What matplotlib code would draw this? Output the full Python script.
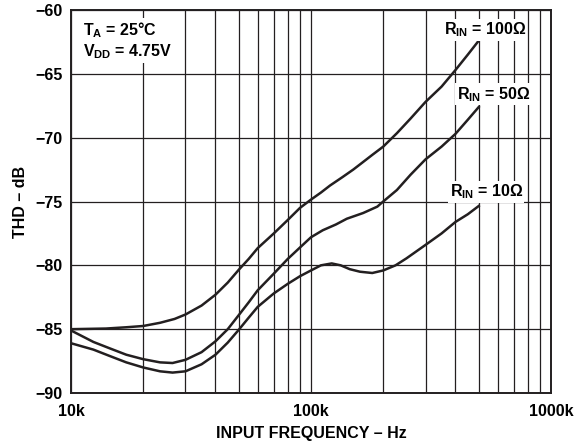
import numpy as np
import matplotlib
matplotlib.use('Agg')
from matplotlib import pyplot as plt

plt.rcParams['font.family'] = ['Liberation Sans', 'DejaVu Sans']
plt.rcParams['font.weight'] = 'bold'
plt.rcParams['mathtext.fontset'] = 'custom'
plt.rcParams['mathtext.rm'] = 'Liberation Sans:bold'
plt.rcParams['mathtext.it'] = 'Liberation Sans:bold'
plt.rcParams['mathtext.bf'] = 'Liberation Sans:bold'

# frequency in kHz, THD in dB
f_100 = [10, 14, 17, 20, 23.5, 27, 30, 35, 40, 45, 50, 55, 60, 70, 80, 90, 100, 110, 120, 135,
         150, 165, 180, 200, 228, 260, 300, 350, 400, 450, 500]
thd_100 = [-85.0, -84.95, -84.85, -84.75, -84.5, -84.2, -83.85, -83.15, -82.3, -81.35, -80.35,
           -79.5, -78.65, -77.5, -76.45, -75.5, -74.85, -74.3, -73.75, -73.1, -72.5, -71.9,
           -71.35, -70.7, -69.65, -68.5, -67.2, -66.0, -64.7, -63.5, -62.4]

f_50 = [10, 12.4, 14.5, 17, 20, 23.5, 26.5, 30, 35, 40, 45, 50, 55, 60, 70, 80, 90, 100, 112,
        127, 141, 165, 189, 200, 228, 260, 300, 350, 400, 450, 500]
thd_50 = [-85.1, -86.0, -86.5, -87.0, -87.35, -87.6, -87.65, -87.4, -86.8, -85.95, -85.0, -83.9,
          -82.9, -81.95, -80.65, -79.5, -78.6, -77.8, -77.25, -76.8, -76.35, -75.9, -75.4,
          -75.0, -74.1, -72.9, -71.7, -70.7, -69.7, -68.6, -67.6]

f_10 = [10, 12.4, 14.5, 17, 20, 23.5, 26.5, 30, 35, 40, 45, 50, 55, 60, 70, 80, 90, 100, 110,
        122, 133, 145, 160, 180, 200, 225, 250, 300, 350, 400, 450, 500]
thd_10 = [-86.1, -86.6, -87.1, -87.6, -88.0, -88.3, -88.4, -88.3, -87.75, -87.0, -86.05, -85.05,
          -84.1, -83.25, -82.2, -81.45, -80.85, -80.4, -80.0, -79.85, -80.0, -80.3, -80.5,
          -80.6, -80.4, -80.0, -79.45, -78.4, -77.5, -76.6, -76.0, -75.35]

yticks = [-90, -85, -80, -75, -70, -65, -60]

fig = plt.figure(figsize=(5.78, 4.46), dpi=100)
ax = fig.add_axes([0.1228, 0.1188, 0.8305, 0.8588])

for f, t in [(f_100, thd_100), (f_50, thd_50), (f_10, thd_10)]:
    ax.plot(np.array(f) * 1e3, t, color='#231f20', lw=1.8, zorder=3)

ax.set_xscale('log')
ax.set_xlim(1e4, 1e6)
ax.set_ylim(-90, -60)
ax.set_xticks([1e4, 1e5, 1e6])
ax.set_xticklabels(['10k', '100k', '1000k'])
ax.set_xticks([k * m for m in (1e4, 1e5) for k in range(2, 10)], minor=True)
ax.set_xticklabels([], minor=True)
ax.set_yticks(yticks)
ax.set_yticklabels(['\u2212%d' % abs(v) for v in yticks])
ax.grid(True, which='both', color='#231f20', lw=0.9)
ax.tick_params(which='both', length=0, labelsize=11.5)
ax.tick_params(axis='x', pad=8)
ax.tick_params(axis='y', pad=6)
for s in ax.spines.values():
    s.set_linewidth(1.4)
    s.set_color('#231f20')

ax.set_xlabel('INPUT FREQUENCY \u2013 Hz', fontsize=11.5, fontweight='bold', labelpad=5)
ax.set_ylabel('THD \u2013 dB', fontsize=11.5, fontweight='bold', labelpad=5)

box = dict(facecolor='white', edgecolor='none', pad=1)
fs = 11.5
ax.text(11.2e3, -61.55, '$T_A$ = 25\u00b0C', fontsize=fs, ha='left', va='center', bbox=box, zorder=4)
ax.text(11.2e3, -63.3, '$V_{DD}$ = 4.75V', fontsize=fs, ha='left', va='center', bbox=box, zorder=4)
ax.text(785e3, -61.55, '$R_{IN}$ = 100\u03a9', fontsize=fs, ha='right', va='center', bbox=box, zorder=4)
ax.text(817e3, -66.6, '$R_{IN}$ = 50\u03a9', fontsize=fs, ha='right', va='center', bbox=box, zorder=4)
ax.text(764e3, -74.25, '$R_{IN}$ = 10\u03a9', fontsize=fs, ha='right', va='center', bbox=box, zorder=4)

fig.savefig('out.png', dpi=100)
